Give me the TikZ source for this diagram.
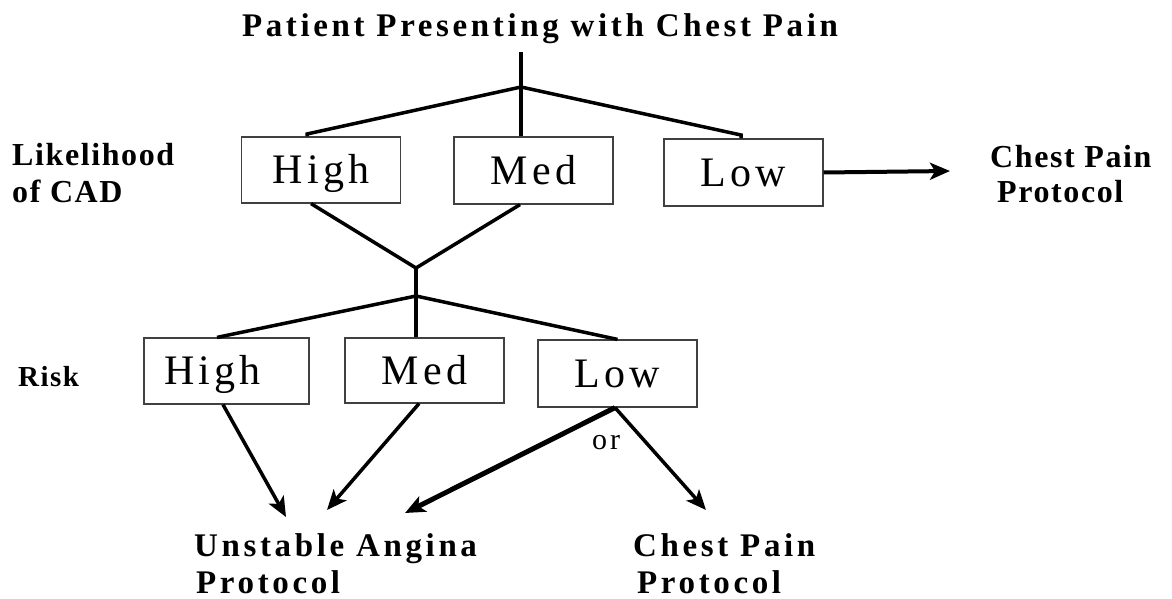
\documentclass[tikz,border=0pt]{standalone}
\usepackage{fontspec}
\setmainfont{Liberation Serif}
\newfontfamily\wideserif[LetterSpace=11]{Liberation Serif}
\newfontfamily\narrowserif[LetterSpace=5]{Liberation Serif}
\newfontfamily\boxserif[LetterSpace=10]{Liberation Serif}
\usetikzlibrary{arrows.meta}
\tikzset{
  box/.style={draw=black!75, line width=1.2pt, minimum width=159pt, minimum height=66pt,
    inner sep=0pt, text height=27.5pt, text depth=0pt,
    font=\boxserif\fontsize{42}{48}\selectfont},
  conn/.style={line width=3.5pt, line join=miter},
  arr/.style={line width=3.5pt, -{Stealth[length=20pt,width=17pt,inset=5pt]}},
  lbl/.style={inner sep=0pt, anchor=base west, font=\narrowserif\bfseries\fontsize{32}{38}\selectfont},
  widelbl/.style={inner sep=0pt, anchor=base west, font=\wideserif\bfseries\fontsize{33}{40}\selectfont},
}
\begin{document}
\begin{tikzpicture}[x=1pt,y=-1pt]
\fill[white] (0,0) rectangle (1172,599);
\useasboundingbox (0,0) rectangle (1172,599);

% title
\node[widelbl, anchor=base] (title) at (540,37) {Patient Presenting with Chest Pain};

% left labels
\node[lbl] (lik1) at (12,165) {Likelihood};
\node[lbl] (lik2) at (12,202) {of CAD};
\node[lbl, font=\narrowserif\bfseries\fontsize{29}{34}\selectfont] (risk) at (18,386) {Risk};

% likelihood boxes
\node[box] (lh) at (321,170) {High};
\node[box, minimum height=67pt] (lm) at (533.5,170.5) {Med};
\node[box, minimum height=67pt] (ll) at (743.5,172.5) {Low};

% risk boxes
\node[box, minimum width=165pt] (rh) at (226.5,371) {High\hspace*{28pt}};
\node[box, minimum height=65pt] (rm) at (424.5,370.5) {Med};
\node[box, minimum height=67pt] (rl) at (617.5,373.5) {Low};

% right top label
\node[lbl] (cp1) at (990,167) {Chest Pain};
\node[lbl] (cp2) at (997,202) {Protocol};

% bottom labels
\node[widelbl] (ua1) at (194,556) {Unstable Angina};
\node[widelbl, text depth=0pt] (ua2) at (196,593) {Protocol};
\node[widelbl] (cb1) at (633,556) {Chest Pain};
\node[widelbl, text depth=0pt] (cb2) at (637,593) {Protocol};

\node[inner sep=0pt, anchor=base, font=\boxserif\fontsize{30}{34}\selectfont] (or) at (606,449) {or};

% coordinates
\coordinate (b1) at (521,87);
\coordinate (k1) at (307,134);
\coordinate (k2) at (741,135);
\coordinate (c1) at (416,268);
\coordinate (b2) at (416,296);
\coordinate (a1) at (286,517);
\coordinate (a2) at (327,510);
\coordinate (a3) at (405,513);
\coordinate (a4) at (706,510);
\coordinate (a5) at (950,171);

% top tree
\draw[conn] ([yshift=-8pt]title.south -| b1) -- (b1 |- lm.north);
\draw[conn] (b1) -- (k1) -- (k1 |- lh.north);
\draw[conn] (b1) -- (k2) -- (k2 |- ll.north);

% convergence
\draw[conn] ([xshift=-10pt]lh.south) -- (c1) -- ([xshift=-13.5pt]lm.south);
\draw[conn] (c1) -- (b2) -- (b2 |- rm.north);
\draw[conn] (b2) -- ([xshift=-9.5pt]rh.north);
\draw[conn] (b2) -- (rl.north);

% arrows
\draw[arr, line width=4pt] (ll.east) -- (a5);
\draw[arr] ([xshift=-3.5pt]rh.south) -- (a1);
\draw[arr] ([xshift=-5.5pt]rm.south) -- (a2);
\draw[arr, line width=5pt] ([xshift=-2.5pt]rl.south) -- (a3);
\draw[arr] ([xshift=-2.5pt]rl.south) -- (a4);
\end{tikzpicture}
\end{document}
